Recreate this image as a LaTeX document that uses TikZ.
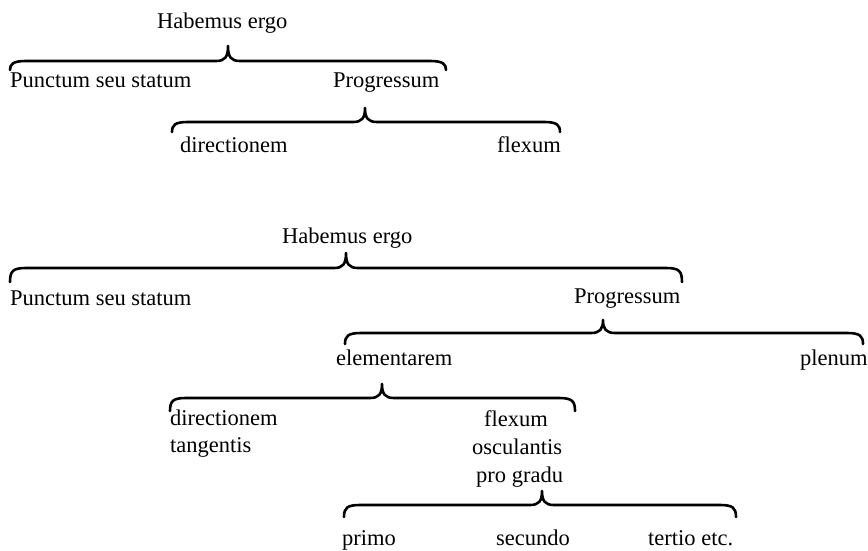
\documentclass[tikz,border=0pt]{standalone}
\usepackage{fontspec}
\setmainfont{Liberation Serif}
\newcommand{\cbrace}[6]{% x1 x2 xt yline ytip yend
  \draw[bracestyle] (#1,#6) .. controls (#1,#4+3) and (#1+3,#4) .. (#1+16,#4)
    -- (#3-12,#4) .. controls (#3-3,#4) and (#3,#4-4) .. (#3,#5)
    .. controls (#3,#4-4) and (#3+3,#4) .. (#3+12,#4)
    -- (#2-16,#4) .. controls (#2-3,#4) and (#2,#4+3) .. (#2,#6);}
\begin{document}
\begin{tikzpicture}[x=1pt,y=-1pt,
  lbl/.style={anchor=base west,inner sep=0pt,font=\fontsize{22.5}{27}\selectfont},
  bracestyle/.style={line width=2.6pt,line cap=round,line join=round}]
\useasboundingbox (0,0) rectangle (868,551);
% top diagram
\node[lbl] (h1) at (157,29) {Habemus ergo};
\cbrace{10}{446}{228}{61}{46}{70}
\node[lbl] (p1) at (10,88) {Punctum seu statum};
\node[lbl] (g1) at (333,88) {Progressum};
\cbrace{172}{560}{365}{122}{108}{132}
\node[lbl] (d1) at (180,152) {directionem};
\node[lbl] (f1) at (497,152) {flexum};
% bottom diagram
\node[lbl] (h2) at (282,243) {Habemus ergo};
\cbrace{10}{682}{346}{268}{253}{282}
\node[lbl] (p2) at (10,305) {Punctum seu statum};
\node[lbl] (g2) at (574,303) {Progressum};
\cbrace{345}{863}{603}{333}{320}{344}
\node[lbl] (e2) at (336,365) {elementarem};
\node[lbl] (pl) at (800,365) {plenum};
\cbrace{170}{575}{382}{398}{384}{411}
\node[lbl] (d2) at (170,425) {directionem};
\node[lbl] (t2) at (170,452) {tangentis};
\node[lbl] (f2) at (484,426) {flexum};
\node[lbl] (o2) at (472,454) {osculantis};
\node[lbl] (pg) at (476,482) {pro gradu};
\cbrace{344}{736}{542}{505}{491}{517}
\node[lbl] (pr) at (342,545) {primo};
\node[lbl] (se) at (496,545) {secundo};
\node[lbl] (te) at (648,545) {tertio etc.};
\end{tikzpicture}
\end{document}
